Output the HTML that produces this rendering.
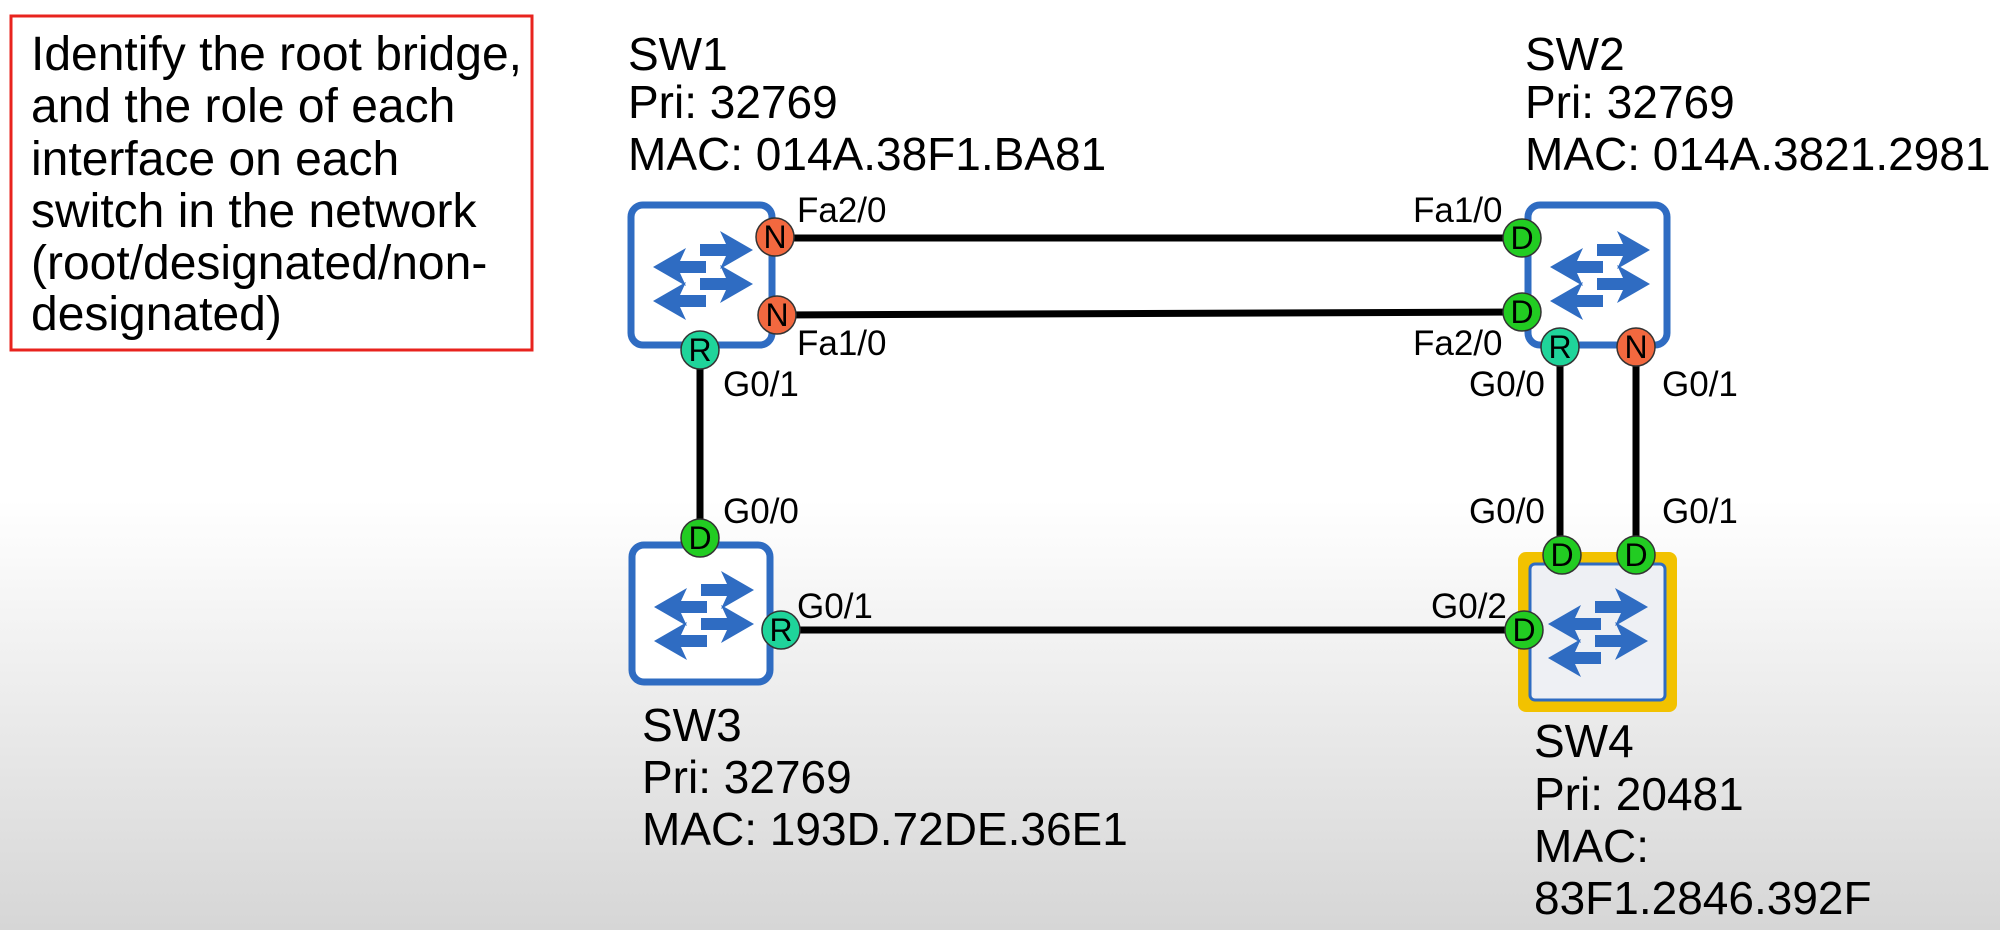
<!DOCTYPE html>
<html><head><meta charset="utf-8"><style>
html,body{margin:0;padding:0;width:2000px;height:930px;overflow:hidden}
body{background:linear-gradient(to bottom,#fff 0px,#fff 500px,#d6d6d6 930px)}
svg{display:block;font-family:"Liberation Sans",Arial,sans-serif}
</style></head><body>
<svg width="2000" height="930" viewBox="0 0 2000 930" xmlns="http://www.w3.org/2000/svg">
<defs>
<g id="icon" fill="#2f6cc2">
<polygon points="72,42 98,42 92,29 125,48 92,67 98,54 72,54"/>
<polygon points="72,76 98,76 92,63 125,82 92,101 98,88 72,88"/>
<polygon points="78,59 52,59 58,46 25,65 58,84 52,71 78,71"/>
<polygon points="78,93 52,93 58,80 25,99 58,118 52,105 78,105"/>
</g>
</defs>
<rect x="11" y="16" width="521" height="334" fill="#fff" stroke="#e8231e" stroke-width="3"/>
<g font-size="48" fill="#000">
<text x="31" y="70">Identify the root bridge,</text>
<text x="31" y="122">and the role of each</text>
<text x="31" y="175">interface on each</text>
<text x="31" y="227">switch in the network</text>
<text x="31" y="279">(root/designated/non-</text>
<text x="31" y="330">designated)</text>
</g>
<g font-size="46" fill="#000">
<text x="628" y="70">SW1</text><text x="628" y="118">Pri: 32769</text><text x="628" y="170">MAC: 014A.38F1.BA81</text>
<text x="1525" y="70">SW2</text><text x="1525" y="118">Pri: 32769</text><text x="1525" y="170">MAC: 014A.3821.2981</text>
<text x="642" y="741">SW3</text><text x="642" y="793">Pri: 32769</text><text x="642" y="845">MAC: 193D.72DE.36E1</text>
<text x="1534" y="757">SW4</text><text x="1534" y="810">Pri: 20481</text><text x="1534" y="862">MAC:</text><text x="1534" y="914">83F1.2846.392F</text>
</g>
<g stroke="#000" stroke-width="7">
<line x1="773" y1="238" x2="1522" y2="238"/>
<line x1="777" y1="315" x2="1522" y2="312"/>
<line x1="700" y1="350" x2="700" y2="538"/>
<line x1="781" y1="630" x2="1524" y2="630"/>
<line x1="1560" y1="347" x2="1560" y2="555"/>
<line x1="1636" y1="347" x2="1636" y2="555"/>
</g>
<rect x="631" y="205" width="141" height="140" rx="12" fill="#fff" stroke="#2f6cc2" stroke-width="7"/>
<use href="#icon" transform="translate(628,202)"/>
<rect x="1528" y="205" width="139" height="140" rx="12" fill="#fff" stroke="#2f6cc2" stroke-width="7"/>
<use href="#icon" transform="translate(1525,202)"/>
<rect x="632" y="545" width="138" height="137" rx="12" fill="#fff" stroke="#2f6cc2" stroke-width="7"/>
<use href="#icon" transform="translate(629,542)"/>
<rect x="1522" y="556" width="151" height="152" rx="4" fill="#f2c200" stroke="#f2c200" stroke-width="8"/>
<rect x="1530" y="564" width="135" height="136" rx="5" fill="#eef0f4" stroke="#2f6cc2" stroke-width="3"/>
<use href="#icon" transform="translate(1523,559)"/>
<g font-size="35" fill="#000">
<text x="797" y="222">Fa2/0</text><text x="797" y="355">Fa1/0</text><text x="723" y="396">G0/1</text>
<text x="1413" y="222">Fa1/0</text><text x="1413" y="355">Fa2/0</text>
<text x="1469" y="396">G0/0</text><text x="1662" y="396">G0/1</text>
<text x="723" y="523">G0/0</text><text x="797" y="618">G0/1</text>
<text x="1469" y="523">G0/0</text><text x="1662" y="523">G0/1</text><text x="1431" y="618">G0/2</text>
</g>
<g stroke="#333" stroke-width="1.5">
<circle cx="775" cy="237" r="19" fill="#f2683f"/>
<circle cx="777" cy="315" r="19" fill="#f2683f"/>
<circle cx="700" cy="350" r="19" fill="#1fd49a"/>
<circle cx="1522" cy="238" r="19" fill="#22cc22"/>
<circle cx="1522" cy="312" r="19" fill="#22cc22"/>
<circle cx="1560" cy="347" r="19" fill="#1fd49a"/>
<circle cx="1636" cy="347" r="19" fill="#f2683f"/>
<circle cx="700" cy="538" r="19" fill="#22cc22"/>
<circle cx="781" cy="630" r="19" fill="#1fd49a"/>
<circle cx="1562" cy="555" r="19" fill="#22cc22"/>
<circle cx="1636" cy="555" r="19" fill="#22cc22"/>
<circle cx="1524" cy="630" r="19" fill="#22cc22"/>
</g>
<g font-size="32" text-anchor="middle" fill="#000">
<text x="775" y="248">N</text><text x="777" y="326">N</text><text x="700" y="361">R</text>
<text x="1522" y="249">D</text><text x="1522" y="323">D</text><text x="1560" y="358">R</text><text x="1636" y="358">N</text>
<text x="700" y="549">D</text><text x="781" y="641">R</text>
<text x="1562" y="566">D</text><text x="1636" y="566">D</text><text x="1524" y="641">D</text>
</g>
</svg>
</body></html>
